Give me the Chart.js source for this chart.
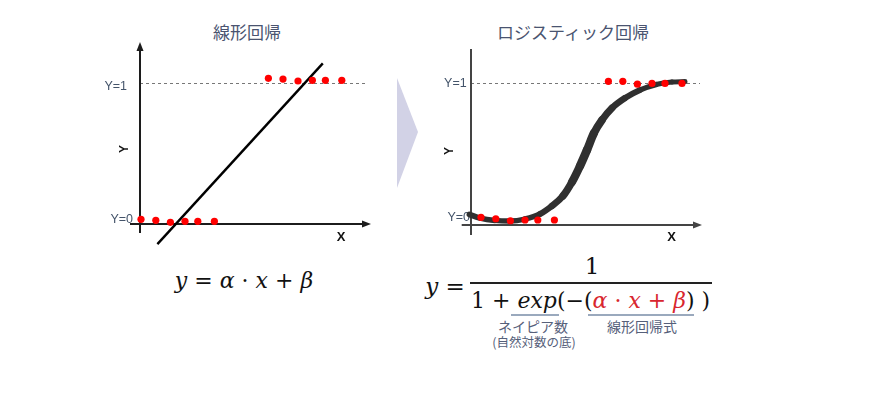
<!DOCTYPE html>
<html><head><meta charset="utf-8">
<script src="https://cdn.jsdelivr.net/npm/chart.js@4/dist/chart.umd.min.js"></script>
<style>
html,body{margin:0;padding:0;background:#fff;width:875px;height:393px;overflow:hidden;}
body{position:relative;font-family:"Noto Sans CJK JP",sans-serif;}
.cv{position:absolute;}
.t{position:absolute;white-space:nowrap;line-height:1;transform:translate(-50%,-50%);}
.ttl{font-size:17px;color:#4a5470;}
.m{position:absolute;white-space:nowrap;line-height:1;font-family:"DejaVu Serif",serif;color:#111;}
.i{font-style:italic;}
.r{color:#d8262e;}
.ann{color:#56607a;}
.ul{position:absolute;height:2px;background:#9aa9bd;}
</style></head><body>
<div class="t ttl" style="left:247px;top:31px">線形回帰</div>
<div class="t ttl" style="left:573px;top:31px">ロジスティック回帰</div>

<canvas id="c1" class="cv" width="280" height="210" style="left:100px;top:40px"></canvas>
<canvas id="c2" class="cv" width="280" height="210" style="left:430px;top:40px"></canvas>

<svg style="position:absolute;left:390px;top:70px" width="40" height="130"><polygon points="7,8 28,62 7,118" fill="#d2d2e6"/></svg>

<!-- left formula -->
<div class="m t" style="left:244px;top:281px;font-size:22px"><span class="i">y</span> = <span class="i">α</span> · <span class="i">x</span> + <span class="i">β</span></div>

<!-- right formula -->
<div class="m t" style="left:445px;top:286px;font-size:23px"><span class="i">y</span> =</div>
<div style="position:absolute;left:470px;top:282px;width:242px;height:1.5px;background:#222"></div>
<div class="m t" style="left:592px;top:266px;font-size:23px">1</div>
<div class="m" style="left:471px;top:290px;font-size:22px">1 + <span class="i">exp</span>(−(<span class="r"><span class="i">α</span> · <span class="i">x</span> + <span class="i">β</span></span>) )</div>
<div class="ul" style="left:511px;top:314px;width:48px"></div>
<div class="ul" style="left:588px;top:314px;width:106px"></div>
<div class="t ann" style="left:533px;top:326px;font-size:14px">ネイピア数</div>
<div class="t ann" style="left:534px;top:342px;font-size:12.5px">(自然対数の底)</div>
<div class="t ann" style="left:642px;top:326px;font-size:14px">線形回帰式</div>

<script>
// ---- data ----
const linearLowX  = [0.05, 0.79, 1.52, 2.25, 2.89, 3.72];
const linearLowY  = [0.033, 0.026, 0.012, 0.019, 0.019, 0.019];
const linearHighX = [6.42, 7.15, 7.90, 8.62, 9.27, 10.09];
const linearHighY = [1.031, 1.026, 1.012, 1.017, 1.017, 1.017];
const linearFitX  = [0.87, 9.14];
const linearFitY  = [-0.142, 1.137];

const logisticLowX  = [0.50, 1.24, 1.97, 2.70, 3.34, 4.17];
const logisticLowY  = [0.054, 0.044, 0.030, 0.035, 0.035, 0.035];
const logisticHighX = [6.87, 7.59, 8.32, 9.05, 9.70, 10.55];
const logisticHighY = [1.010, 1.010, 0.990, 0.995, 0.995, 0.995];
const sigmoidX = [-0.08, 0.45, 1.20, 1.95, 2.70, 3.45, 4.05, 4.60, 5.05, 5.45, 5.80, 6.15, 6.55, 7.05, 7.70, 8.45, 9.25, 10.05, 10.70];
const sigmoidY = [0.074, 0.049, 0.032, 0.028, 0.042, 0.077, 0.134, 0.204, 0.302, 0.415, 0.527, 0.647, 0.738, 0.822, 0.892, 0.949, 0.987, 1.005, 1.008];

const tickValues = [0, 1];
const tickLabels = ["Y=0", "Y=1"];
const axisTitleX = "X";
const axisTitleY = "Y";

const pts = (xs, ys) => xs.map((x, i) => ({x: x, y: ys[i]}));

const axesPlugin = {
  id: 'axes',
  beforeDatasetsDraw(chart, args, o) {
    const {ctx, scales: {x, y}} = chart;
    const X = v => x.getPixelForValue(v), Y = v => y.getPixelForValue(v);
    ctx.save();
    // dashed reference line at Y=1
    ctx.strokeStyle = '#777'; ctx.lineWidth = 1; ctx.setLineDash([3, 3]);
    ctx.beginPath(); ctx.moveTo(X(0), Math.round(Y(1)) + 0.5); ctx.lineTo(X(o.dashEnd), Math.round(Y(1)) + 0.5); ctx.stroke();
    ctx.setLineDash([]);
    // axes
    ctx.strokeStyle = o.color; ctx.fillStyle = o.color; ctx.lineWidth = 2;
    ctx.beginPath();
    ctx.moveTo(X(o.xFrom), Y(0)); ctx.lineTo(X(o.xTo), Y(0));
    ctx.moveTo(X(0), Y(o.yFrom)); ctx.lineTo(X(0), Y(o.yTo));
    ctx.stroke();
    // arrow heads
    const ax = X(o.xTo), ay = Y(0);
    ctx.beginPath(); ctx.moveTo(ax + 3, ay); ctx.lineTo(ax - 6, ay - 3.5); ctx.lineTo(ax - 6, ay + 3.5); ctx.closePath(); ctx.fill();
    if (o.yArrow) {
      const bx = X(0), by = Y(o.yTo);
      ctx.beginPath(); ctx.moveTo(bx, by - 3); ctx.lineTo(bx - 3.5, by + 6); ctx.lineTo(bx + 3.5, by + 6); ctx.closePath(); ctx.fill();
    }
    // tick labels
    ctx.font = '12.5px "Liberation Sans", Arial, sans-serif';
    ctx.fillStyle = '#44546a'; ctx.textAlign = 'right'; ctx.textBaseline = 'middle';
    tickValues.forEach((v, i) => {
      ctx.fillText(tickLabels[i], X(0) - o.tickDx[i], Y(v) + o.tickDy[i]);
    });
    // axis titles
    ctx.fillStyle = '#111'; ctx.textAlign = 'center';
    ctx.font = 'bold 13px "Liberation Sans", Arial, sans-serif';
    ctx.fillText(axisTitleX, X(o.xTitle[0]), Y(o.xTitle[1]));
    ctx.save();
    ctx.translate(X(o.yTitle[0]), Y(o.yTitle[1]));
    ctx.rotate(-Math.PI / 2);
    ctx.font = 'bold 12px "Liberation Sans", Arial, sans-serif';
    ctx.fillText(axisTitleY, 0, 0);
    ctx.restore();
    ctx.restore();
  }
};

function opts(xmin, xmax, ymin, ymax, axes) {
  return {
    responsive: false, animation: false, events: [],
    layout: {padding: 0, autoPadding: false},
    plugins: {legend: {display: false}, tooltip: {enabled: false}, axes: axes},
    scales: {
      x: {type: 'linear', min: xmin, max: xmax, display: false},
      y: {type: 'linear', min: ymin, max: ymax, display: false}
    }
  };
}

const dotStyle = {showLine: false, pointRadius: 3.6, pointBackgroundColor: '#ff0000', pointBorderWidth: 0, borderColor: '#ff0000', order: 0};

new Chart(document.getElementById('c1'), {
  type: 'scatter',
  data: {datasets: [
    Object.assign({data: pts(linearLowX, linearLowY)}, dotStyle),
    Object.assign({data: pts(linearHighX, linearHighY)}, dotStyle),
    {data: pts(linearFitX, linearFitY), showLine: true, borderColor: '#000', borderWidth: 2.4, pointRadius: 0, order: 1}
  ]},
  options: opts(-2, 12, -0.1840, 1.3022, {
    color: '#1c1c1c', xFrom: -0.5, xTo: 11.4, yFrom: -0.064, yTo: 1.267, yArrow: true, dashEnd: 11.25,
    tickDx: [7, 13], tickDy: [-4.5, 4], xTitle: [10.05, -0.095], yTitle: [-0.75, 0.53]
  }),
  plugins: [axesPlugin]
});

// stroke is thicker in the steep middle of the S-curve, thinner at the ends
const strokeWidth = c => 5 + 3.5 * Math.sin(Math.PI * Math.min(1, Math.max(0, (c.p0.parsed.y + c.p1.parsed.y) / 2)));

new Chart(document.getElementById('c2'), {
  type: 'scatter',
  data: {datasets: [
    Object.assign({data: pts(logisticLowX, logisticLowY)}, dotStyle),
    Object.assign({data: pts(logisticHighX, logisticHighY)}, dotStyle),
    {data: pts(sigmoidX, sigmoidY), showLine: true, borderColor: '#303030', borderWidth: 6, pointRadius: 0,
     tension: 0.4, cubicInterpolationMode: 'monotone', borderCapStyle: 'round', borderJoinStyle: 'round',
     segment: {borderWidth: strokeWidth}, order: 1}
  ]},
  options: opts(-2.05, 11.95, -0.1757, 1.3001, {
    color: '#444', xFrom: -0.465, xTo: 11.4, yFrom: -0.07, yTo: 1.237, yArrow: false, dashEnd: 11.45,
    tickDx: [1, 4.3], tickDy: [-7, 1.3], xTitle: [10.03, -0.088], yTitle: [-1.05, 0.52]
  }),
  plugins: [axesPlugin]
});
</script>
</body></html>
